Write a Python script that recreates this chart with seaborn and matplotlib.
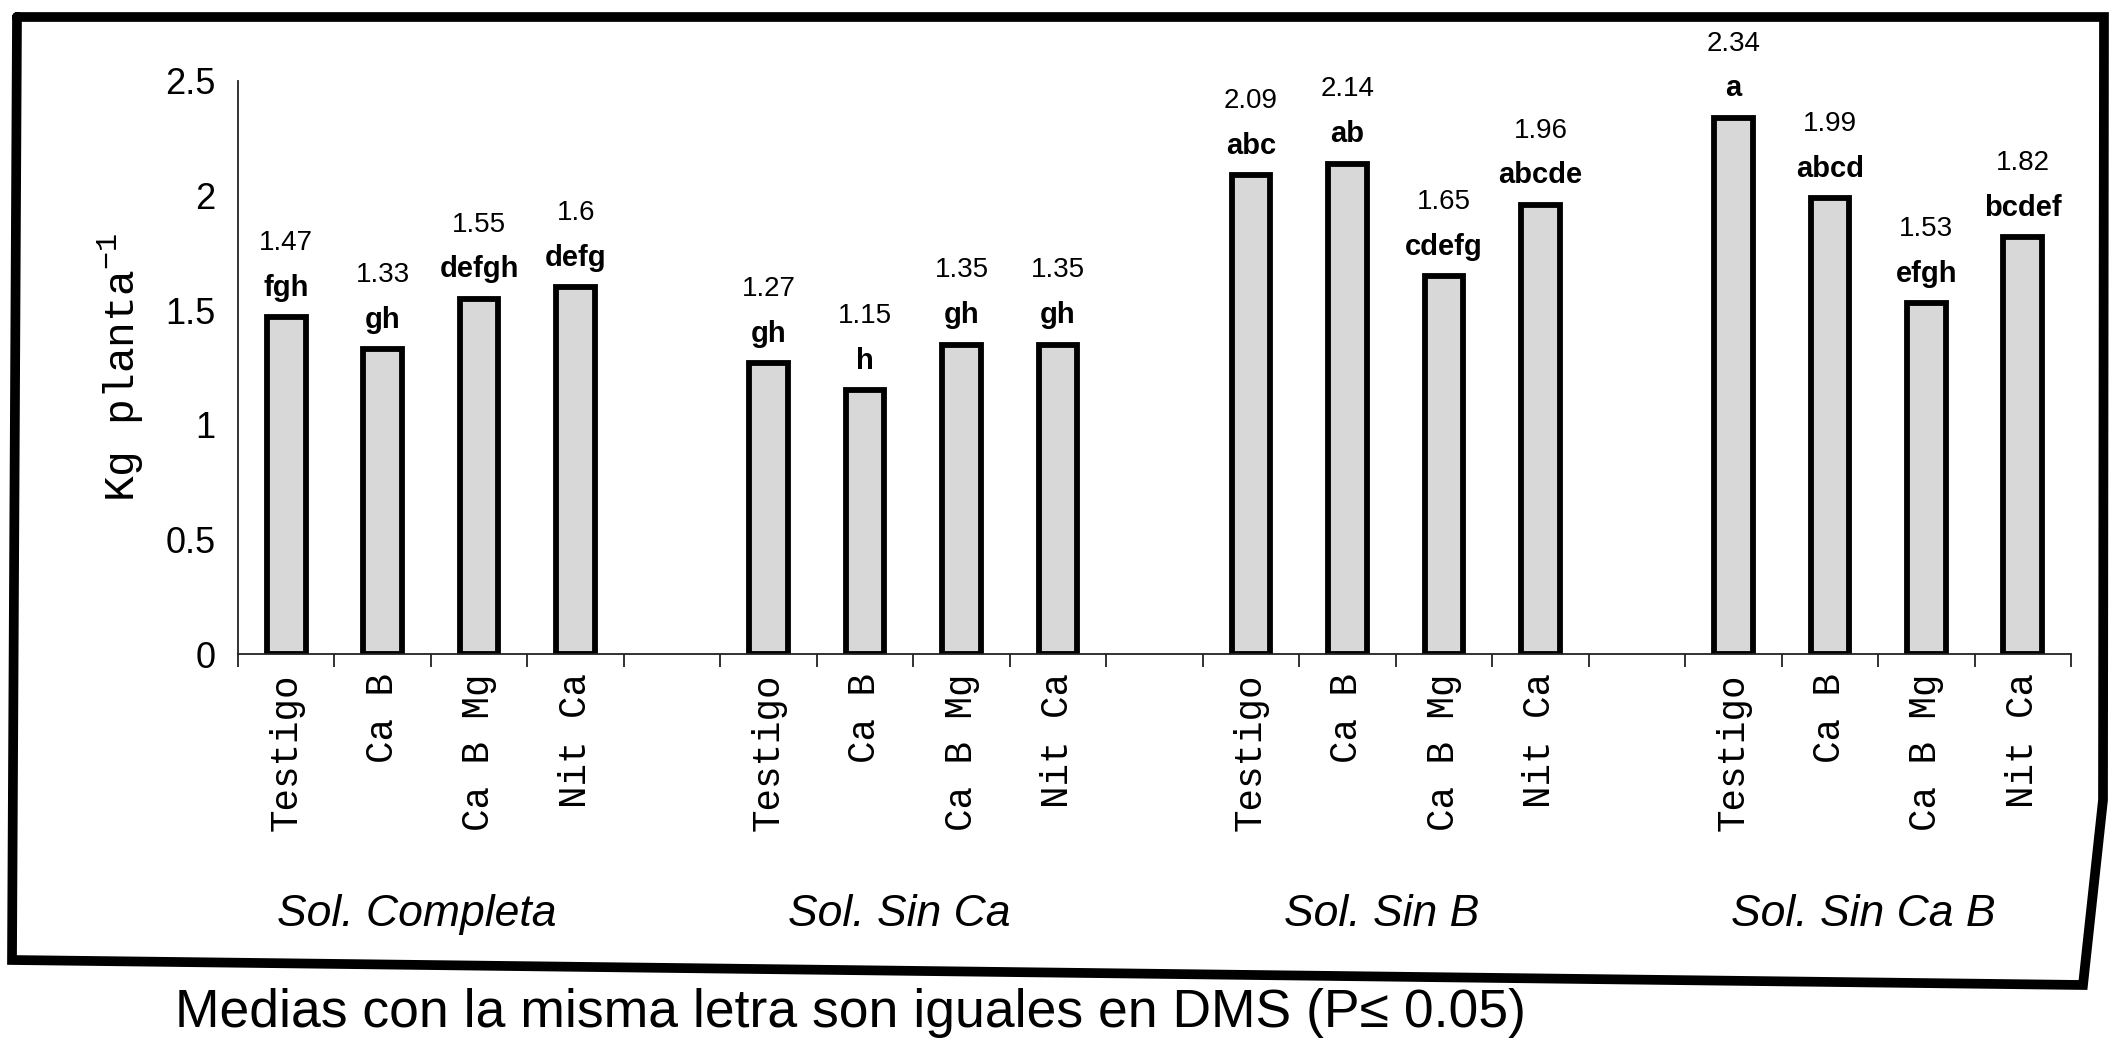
import matplotlib
matplotlib.use("Agg")
import matplotlib.pyplot as plt
from matplotlib.lines import Line2D
from matplotlib.ticker import FixedLocator, NullFormatter
import seaborn as sns
import pandas as pd

# ---- data -------------------------------------------------------------
groups = ["Sol. Completa", "Sol. Sin Ca", "Sol. Sin B", "Sol. Sin Ca B"]
treatments = ["Testigo", "Ca B", "Ca B Mg", "Nit Ca"]

completa = [1.47, 1.33, 1.55, 1.6]
sin_ca = [1.27, 1.15, 1.35, 1.35]
sin_b = [2.09, 2.14, 1.65, 1.96]
sin_ca_b = [2.34, 1.99, 1.53, 1.82]

letters_completa = ["fgh", "gh", "defgh", "defg"]
letters_sin_ca = ["gh", "h", "gh", "gh"]
letters_sin_b = ["abc", "ab", "cdefg", "abcde"]
letters_sin_ca_b = ["a", "abcd", "efgh", "bcdef"]

yticks = [0, 0.5, 1, 1.5, 2, 2.5]
ylabel = "Kg planta$^{-1}$"
caption = "Medias con la misma letra son iguales en DMS (P\u2264 0.05)"

values = [completa, sin_ca, sin_b, sin_ca_b]
letters = [letters_completa, letters_sin_ca, letters_sin_b, letters_sin_ca_b]

# long table; one empty slot separates consecutive groups
rows, order, ticklabels = [], [], []
for gi, g in enumerate(groups):
    if gi > 0:
        order.append(f"gap{gi}")
        ticklabels.append("")
    for t, v, l in zip(treatments, values[gi], letters[gi]):
        key = f"{g}|{t}"
        rows.append({"key": key, "grupo": g, "tratamiento": t, "kg": v, "letra": l})
        order.append(key)
        ticklabels.append(t)
df = pd.DataFrame(rows)

# ---- style ------------------------------------------------------------
sns.set_theme(style="white")
plt.rcParams["font.family"] = ["Liberation Sans", "DejaVu Sans"]
plt.rcParams["mathtext.fontset"] = "custom"
plt.rcParams["mathtext.rm"] = "Liberation Mono"
plt.rcParams["mathtext.it"] = "Liberation Mono"
for k in ["text.color", "axes.labelcolor", "xtick.color", "ytick.color"]:
    plt.rcParams[k] = "black"

MONO = ["Liberation Mono", "DejaVu Sans Mono"]

W, H = 2118, 1052
fig = plt.figure(figsize=(W / 100, H / 100), dpi=100)
ax = fig.add_axes([238 / W, 1 - 654 / H, (2071 - 238) / W, (654 - 81) / H])

sns.barplot(data=df, x="key", y="kg", order=order, ax=ax,
            color="#d8d8d8", saturation=1, width=0.4,
            edgecolor="black", linewidth=4.2, errorbar=None)

ax.set_xlim(-0.5, len(order) - 0.5)
ax.set_ylim(0, 2.5)

# axes lines
for side in ["top", "right"]:
    ax.spines[side].set_visible(False)
for side in ["left", "bottom"]:
    ax.spines[side].set_color("#222222")
    ax.spines[side].set_linewidth(1.3)

# y ticks
ax.set_yticks(yticks)
ax.set_yticklabels([f"{v:g}" for v in yticks], fontsize=26)
ax.tick_params(axis="y", direction="out", length=8, width=1.3, color="#222222", pad=8)

# x: labels at category centres, tick marks between categories
ax.set_xticks(range(len(order)))
ax.set_xticklabels(ticklabels, rotation=90, fontsize=27, family=MONO, va="top")
ax.tick_params(axis="x", which="major", length=0, pad=14)
ax.xaxis.set_minor_locator(FixedLocator([i - 0.5 for i in range(len(order) + 1)]))
ax.xaxis.set_minor_formatter(NullFormatter())
ax.tick_params(axis="x", which="minor", direction="out", length=9, width=1.3,
               color="#222222", bottom=True)
ax.set_xlabel("")

ax.set_ylabel(ylabel, fontsize=31, family=MONO, labelpad=14)

# value and significance-letter labels above each bar
for i, key in enumerate(order):
    sub = df[df["key"] == key]
    if sub.empty:
        continue
    v = float(sub["kg"].iloc[0])
    l = sub["letra"].iloc[0]
    ax.annotate(l, (i, v), xytext=(0, 11), textcoords="offset points",
                ha="center", va="bottom", fontsize=21, fontweight="bold",
                annotation_clip=False)
    ax.annotate(f"{v:g}", (i, v), xytext=(0, 44), textcoords="offset points",
                ha="center", va="bottom", fontsize=20, annotation_clip=False)

# group names under the treatment labels
for gi, g in enumerate(groups):
    centre = gi * 5 + 1.5 - 0.15
    ax.text(centre, -0.455, g, transform=ax.get_xaxis_transform(),
            ha="center", va="center", fontsize=32, style="italic")

# outer frame
frame_px = [(17, 17), (2104, 17), (2103, 800), (2083, 985), (12, 960), (17, 17)]
fx = [p[0] / W for p in frame_px]
fy = [1 - p[1] / H for p in frame_px]
fig.add_artist(Line2D(fx, fy, color="black", linewidth=7, solid_joinstyle="miter",
                      transform=fig.transFigure))

fig.text(175 / W, 1 - 1013 / H, caption, ha="left", va="center", fontsize=38.5)

fig.savefig("out.png", dpi=100, facecolor="white")
